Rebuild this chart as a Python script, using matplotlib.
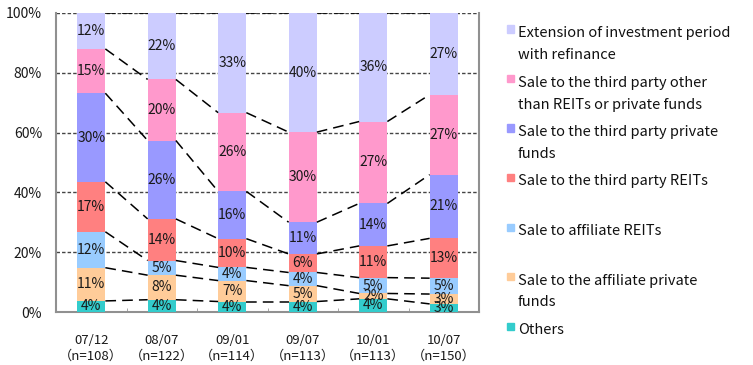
import numpy as np
import matplotlib.pyplot as plt
from matplotlib.patches import Rectangle

plt.rcParams['font.family'] = ['Noto Sans CJK JP', 'DejaVu Sans']

periods = ['07/12', '08/07', '09/01', '09/07', '10/01', '10/07']
sample_n = [108, 122, 114, 113, 113, 150]

# share of each exit method (%), listed bottom to top of the stack
others        = [3.7, 4.1, 3.5, 3.5, 4.4, 2.7]
affil_private = [11.1, 8.2, 7.0, 5.3, 1.8, 3.3]
affil_reits   = [12.0, 4.9, 4.4, 4.4, 5.3, 5.3]
third_reits   = [16.7, 13.9, 9.6, 6.2, 10.6, 13.3]
third_private = [29.6, 26.2, 15.8, 10.6, 14.2, 21.3]
third_other   = [14.8, 20.4, 26.3, 30.1, 27.4, 26.7]
extension     = [12.0, 22.2, 33.3, 39.8, 36.3, 27.3]

series = [others, affil_private, affil_reits, third_reits,
          third_private, third_other, extension]
names = ['Others',
         'Sale to the affiliate private\nfunds',
         'Sale to affiliate REITs',
         'Sale to the third party REITs',
         'Sale to the third party private\nfunds',
         'Sale to the third party other\nthan REITs or private funds',
         'Extension of investment period\nwith refinance']
colors = ['#33CCCC', '#FFCC99', '#99CCFF', '#FF8080',
          '#9999FF', '#FF99CC', '#CCCCFF']

data = np.array(series, dtype=float)
data = data / data.sum(axis=0) * 100  # each column adds up to 100%
tops = np.cumsum(data, axis=0)
bottoms = tops - data

fig = plt.figure(figsize=(7.53, 3.65), dpi=100)
ax = fig.add_axes([56 / 753, 1 - 312 / 365, 423 / 753, 299 / 365])

x = np.arange(len(periods))
w = 0.4

for vals, bot, c in zip(data, bottoms, colors):
    ax.bar(x, vals, width=w, bottom=bot, color=c, zorder=3, linewidth=0)
    for xi, v, b in zip(x, vals, bot):
        ax.text(xi, b + v / 2, f'{v:.0f}%', ha='center', va='center',
                fontsize=10, color='#1a1a1a', zorder=5)

# dashed connectors between neighbouring bars
for level in tops:
    for i in range(len(x) - 1):
        ax.plot([x[i] + w / 2, x[i + 1] - w / 2], [level[i], level[i + 1]],
                color='black', lw=1.1, dashes=(7, 4), zorder=4)

for g in [20, 40, 60, 80, 100]:
    ax.axhline(g, color='#444444', lw=1.0, dashes=(2.5, 1.5), zorder=1)

ax.set_xlim(-0.5, len(periods) - 0.5)
ax.set_ylim(0, 100)
ax.set_yticks([0, 20, 40, 60, 80, 100])
ax.set_yticklabels([f'{t}%' for t in range(0, 101, 20)])
ax.set_xticks(x)
ax.set_xticklabels([f'{p}\n（n={n}）' for p, n in zip(periods, sample_n)],
                   linespacing=1.3)
ax.set_xticks(x[:-1] + 0.5, minor=True)
ax.tick_params(axis='x', which='major', length=0, pad=16, labelsize=9.5,
               labelcolor='#1a1a1a')
ax.tick_params(axis='x', which='minor', length=3, direction='in', color='#999999')
ax.tick_params(axis='y', length=0, pad=10, labelsize=10, labelcolor='#1a1a1a')

for side in ['left', 'right', 'bottom']:
    ax.spines[side].set_color('#909090')
    ax.spines[side].set_linewidth(1.5)
ax.spines['top'].set_visible(False)

# legend drawn by hand, one slot per entry
slot_top = 33
slot_step = 49.5
line_step = 22
for k, (name, c) in enumerate(zip(names[::-1], colors[::-1])):
    yc = slot_top + k * slot_step
    fig.patches.append(Rectangle((507 / 753, 1 - 32.5 / 365 - k * slot_step / 365),
                                 7 / 753, 7 / 365, transform=fig.transFigure,
                                 color=c, figure=fig))
    for j, line in enumerate(name.split('\n')):
        fig.text(518 / 753, 1 - (yc + j * line_step) / 365, line,
                 ha='left', va='center', fontsize=10.5, color='#111111')

fig.savefig('out.png', dpi=100)
